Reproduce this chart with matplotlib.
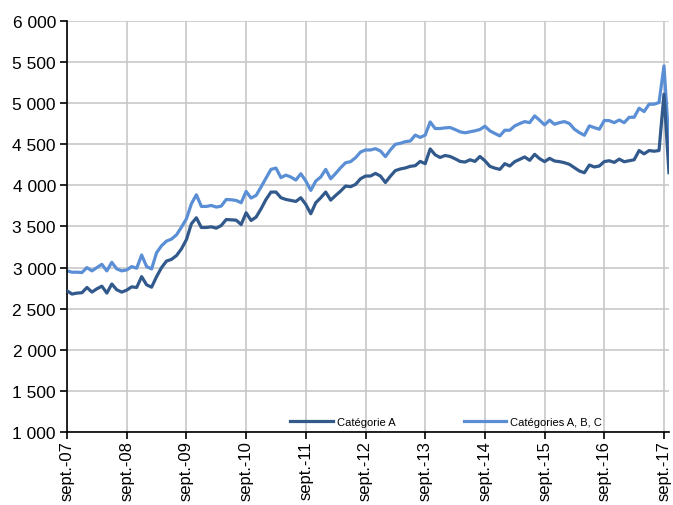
import numpy as np
import matplotlib
matplotlib.use("Agg")
import matplotlib.pyplot as plt

# monthly values, sept. 2007 -> oct. 2017
cat_a = [2718, 2678, 2690, 2694, 2758, 2702, 2742, 2774, 2690, 2800, 2730, 2702,
         2726, 2766, 2758, 2890, 2790, 2762, 2890, 3000, 3080, 3100,
         3146, 3228, 3341, 3533, 3606, 3488, 3488, 3496, 3480, 3512, 3585, 3581,
         3577, 3524, 3667, 3573, 3614, 3715, 3829, 3919, 3919, 3850,
         3829, 3817, 3805, 3850, 3768, 3655, 3789, 3850, 3919, 3821, 3878, 3931,
         3992, 3984, 4012, 4081, 4114, 4114, 4146, 4114, 4035,
         4112, 4180, 4200, 4212, 4232, 4240, 4292, 4264, 4444, 4372, 4340, 4364,
         4352, 4324, 4292, 4284, 4312, 4292, 4352, 4300, 4232, 4210,
         4195, 4264, 4236, 4289, 4317, 4346, 4305, 4378, 4325, 4289, 4329, 4297,
         4289, 4276, 4256, 4215, 4175, 4154, 4248, 4224, 4236,
         4290, 4300, 4280, 4320, 4288, 4300, 4312, 4424, 4384, 4424, 4416, 4424,
         5110, 4155]

cat_abc = [2960, 2944, 2944, 2940, 3000, 2960, 3000, 3040, 2960, 3064, 2984, 2960,
           2972, 3012, 2992, 3153, 3012, 2984, 3181, 3266, 3322, 3347,
           3398, 3492, 3594, 3776, 3886, 3744, 3744, 3756, 3736, 3748, 3829, 3825,
           3817, 3789, 3927, 3846, 3878, 3980, 4089, 4195, 4211, 4095,
           4125, 4102, 4065, 4142, 4053, 3939, 4053, 4102, 4195, 4081, 4146, 4215,
           4276, 4289, 4337, 4406, 4431, 4431, 4447, 4419, 4350,
           4432, 4500, 4512, 4532, 4540, 4612, 4584, 4612, 4772, 4692, 4692, 4700,
           4704, 4680, 4652, 4640, 4652, 4664, 4680, 4720, 4664, 4632,
           4602, 4671, 4671, 4724, 4752, 4776, 4764, 4846, 4793, 4736, 4793, 4744,
           4764, 4776, 4752, 4683, 4642, 4610, 4724, 4703, 4683,
           4790, 4788, 4763, 4796, 4763, 4829, 4829, 4939, 4898, 4988, 4988, 5008,
           5454, 4512]

tick_labels = ['sept.-07', 'sept.-08', 'sept.-09', 'sept.-10', 'sept.-11', 'sept.-12',
               'sept.-13', 'sept.-14', 'sept.-15', 'sept.-16', 'sept.-17']
y_ticks = [1000, 1500, 2000, 2500, 3000, 3500, 4000, 4500, 5000, 5500, 6000]

plt.rcParams['font.family'] = ['Liberation Sans', 'DejaVu Sans']

fig = plt.figure(figsize=(6.73, 5.06), dpi=100)
ax = fig.add_axes([0.0996, 0.1443, 0.8944, 0.8122])

months = np.arange(len(cat_a))
ax.plot(months, cat_a, color='#31598C', lw=2.3, label='Catégorie A', zorder=3)
ax.plot(months, cat_abc, color='#5A8FD6', lw=2.3, label='Catégories A, B, C', zorder=2)

ax.set_xlim(0, 121)
ax.set_ylim(1000, 6000)
ax.set_xticks(np.arange(0, 121, 12))
ax.set_xticklabels(tick_labels, rotation=90, fontsize=12)
ax.set_yticks(y_ticks)
ax.set_yticklabels([f'{v:,}'.replace(',', ' ') for v in y_ticks], fontsize=12.5)

ax.grid(True, color='#C8C8C8', lw=1.2)
ax.set_axisbelow(True)
for side in ['top', 'right']:
    ax.spines[side].set_visible(False)
for side in ['left', 'bottom']:
    ax.spines[side].set_color('black')
    ax.spines[side].set_linewidth(1.2)
ax.tick_params(axis='both', direction='out', length=5, width=1.2, color='black', pad=3)
ax.tick_params(axis='x', pad=1)

leg = ax.legend(loc='lower center', bbox_to_anchor=(0.63, -0.012), ncol=2, frameon=False,
                handlelength=3.8, columnspacing=6.2, handletextpad=0.36,
                prop={'family': ['Liberation Sans Narrow', 'Liberation Sans'], 'size': 8})

fig.savefig('out.png', dpi=100)
